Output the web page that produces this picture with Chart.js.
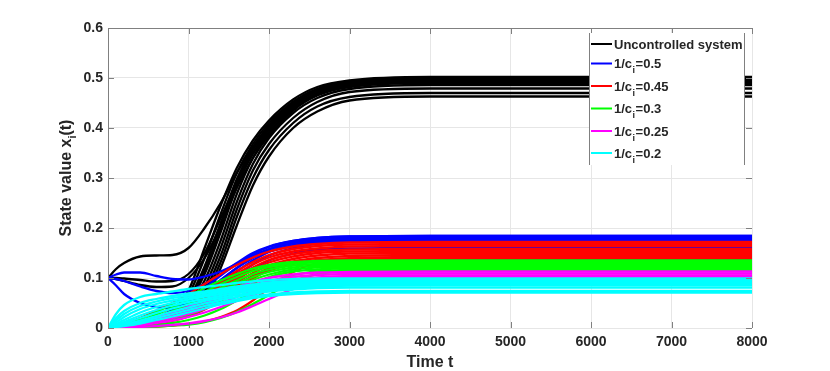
<!DOCTYPE html>
<html>
<head>
<meta charset="utf-8">
<script src="https://cdn.jsdelivr.net/npm/chart.js@4"></script>
<style>
html,body{margin:0;padding:0;background:#fff;}
#wrap{width:830px;height:371px;}
</style>
</head>
<body>
<div id="wrap"><canvas id="c" width="830" height="371"></canvas></div>
<script>
// time samples (x values)
const T = [0,100,200,400,600,800,1000,1200,1400,1600,1800,2000,2300,2600,3000,4000,8000];

// Uncontrolled system
const uncontrolled = [
  [0.1,0.118,0.13,0.143,0.145,0.146,0.16,0.2,0.25,0.31,0.362,0.405,0.452,0.478,0.492,0.499,0.499],
  [0.1,0.098,0.094,0.086,0.082,0.083,0.1,0.14,0.205,0.28,0.34,0.385,0.435,0.465,0.482,0.49,0.49],
  [0.1,0.1,0.099,0.096,0.093,0.094,0.108,0.15,0.22,0.29,0.348,0.392,0.44,0.468,0.484,0.492,0.492],
  [0,0.002,0.004,0.01,0.02,0.035,0.075,0.16,0.245,0.32,0.375,0.415,0.457,0.482,0.495,0.502,0.502],
  [0,0.002,0.004,0.009,0.018,0.032,0.066,0.14,0.228,0.31,0.368,0.41,0.452,0.478,0.492,0.5,0.5],
  [0,0.002,0.004,0.009,0.017,0.03,0.058,0.123,0.21,0.298,0.36,0.404,0.448,0.475,0.49,0.497,0.497],
  [0,0.002,0.004,0.008,0.016,0.029,0.054,0.115,0.2,0.29,0.356,0.401,0.446,0.474,0.489,0.496,0.496],
  [0,0.002,0.003,0.008,0.015,0.027,0.05,0.108,0.192,0.283,0.35,0.397,0.443,0.471,0.487,0.495,0.495],
  [0,0.002,0.003,0.007,0.014,0.025,0.045,0.095,0.175,0.268,0.34,0.39,0.438,0.467,0.484,0.492,0.492],
  [0,0.001,0.003,0.007,0.013,0.023,0.04,0.083,0.16,0.252,0.328,0.38,0.43,0.46,0.478,0.486,0.486],
  [0,0.001,0.003,0.006,0.012,0.021,0.036,0.073,0.145,0.237,0.315,0.368,0.42,0.452,0.472,0.479,0.479],
  [0,0.001,0.002,0.006,0.011,0.019,0.032,0.065,0.132,0.222,0.3,0.356,0.41,0.443,0.462,0.47,0.47],
  [0,0.001,0.002,0.005,0.01,0.017,0.028,0.056,0.12,0.205,0.285,0.343,0.4,0.433,0.455,0.463,0.463]
];

// 1/c_i = 0.5
const ci050 = [
  [0.1,0.107,0.111,0.111,0.104,0.098,0.097,0.103,0.113,0.128,0.145,0.158,0.17,0.176,0.179,0.18,0.18],
  [0.1,0.085,0.068,0.05,0.042,0.04,0.05,0.07,0.095,0.12,0.14,0.153,0.165,0.172,0.175,0.176,0.176],
  [0.1,0.098,0.094,0.083,0.074,0.07,0.074,0.088,0.108,0.13,0.15,0.163,0.174,0.18,0.183,0.184,0.184],
  [0,0.002,0.005,0.012,0.022,0.036,0.055,0.08,0.105,0.128,0.148,0.162,0.174,0.18,0.183,0.184,0.184],
  [0,0.002,0.004,0.01,0.018,0.03,0.047,0.07,0.096,0.12,0.141,0.157,0.17,0.177,0.181,0.182,0.182],
  [0,0.001,0.003,0.008,0.015,0.025,0.04,0.062,0.088,0.113,0.135,0.152,0.166,0.174,0.178,0.179,0.179],
  [0,0.001,0.003,0.007,0.013,0.022,0.035,0.055,0.08,0.105,0.127,0.145,0.16,0.169,0.174,0.176,0.176],
  [0,0.001,0.002,0.006,0.011,0.019,0.03,0.048,0.072,0.097,0.118,0.135,0.149,0.156,0.159,0.16,0.16],
  [0,0.001,0.002,0.005,0.01,0.017,0.027,0.042,0.063,0.085,0.104,0.118,0.13,0.134,0.136,0.136,0.136]
];

// 1/c_i = 0.45
const ci045 = [
  [0,0.003,0.008,0.02,0.034,0.05,0.068,0.088,0.108,0.126,0.141,0.153,0.163,0.168,0.171,0.172,0.172],
  [0,0.002,0.004,0.01,0.018,0.029,0.045,0.068,0.092,0.114,0.132,0.146,0.158,0.164,0.167,0.168,0.168],
  [0,0.001,0.004,0.009,0.016,0.026,0.041,0.062,0.086,0.108,0.127,0.141,0.153,0.159,0.163,0.164,0.164],
  [0,0.001,0.003,0.008,0.014,0.023,0.037,0.057,0.08,0.102,0.121,0.136,0.148,0.154,0.157,0.158,0.158],
  [0,0.001,0.003,0.007,0.012,0.02,0.033,0.052,0.075,0.097,0.116,0.131,0.143,0.15,0.153,0.154,0.154],
  [0,0.001,0.003,0.006,0.011,0.018,0.03,0.047,0.069,0.091,0.11,0.125,0.138,0.145,0.149,0.15,0.15],
  [0,0.001,0.002,0.005,0.01,0.016,0.026,0.042,0.063,0.085,0.104,0.12,0.133,0.14,0.144,0.146,0.146],
  [0,0.001,0.002,0.005,0.009,0.014,0.023,0.037,0.057,0.079,0.099,0.115,0.128,0.136,0.14,0.142,0.142],
  [0,0,0.001,0.002,0.003,0.005,0.008,0.013,0.022,0.035,0.055,0.08,0.112,0.13,0.137,0.139,0.139]
];

// 1/c_i = 0.3
const ci030 = [
  [0,0.003,0.008,0.019,0.032,0.048,0.064,0.08,0.095,0.108,0.119,0.126,0.132,0.134,0.135,0.135,0.135],
  [0,0.002,0.006,0.015,0.027,0.041,0.056,0.072,0.088,0.102,0.114,0.122,0.129,0.131,0.132,0.132,0.132],
  [0,0.002,0.005,0.012,0.022,0.034,0.048,0.064,0.08,0.095,0.108,0.117,0.125,0.128,0.129,0.129,0.129],
  [0,0.001,0.004,0.01,0.018,0.028,0.041,0.056,0.073,0.089,0.102,0.112,0.121,0.124,0.126,0.126,0.126],
  [0,0.001,0.003,0.008,0.014,0.022,0.033,0.047,0.064,0.081,0.096,0.107,0.117,0.121,0.123,0.123,0.123],
  [0,0.001,0.002,0.006,0.011,0.017,0.026,0.038,0.054,0.072,0.089,0.102,0.113,0.117,0.12,0.12,0.12],
  [0,0,0.001,0.003,0.006,0.01,0.016,0.025,0.038,0.055,0.073,0.09,0.106,0.113,0.116,0.117,0.117],
  [0,0,0.001,0.002,0.003,0.005,0.007,0.012,0.02,0.032,0.048,0.066,0.093,0.108,0.113,0.114,0.114]
];

// 1/c_i = 0.25
const ci025 = [
  [0,0.002,0.005,0.012,0.021,0.031,0.043,0.056,0.069,0.081,0.092,0.1,0.107,0.111,0.112,0.113,0.113],
  [0,0.001,0.004,0.01,0.018,0.027,0.038,0.05,0.063,0.075,0.086,0.094,0.102,0.106,0.108,0.109,0.109],
  [0,0.001,0.003,0.008,0.015,0.023,0.033,0.044,0.057,0.069,0.08,0.089,0.097,0.101,0.104,0.105,0.105],
  [0,0.001,0.003,0.007,0.013,0.02,0.028,0.038,0.05,0.062,0.074,0.083,0.092,0.097,0.1,0.102,0.102],
  [0,0.001,0.002,0.005,0.01,0.015,0.022,0.031,0.042,0.054,0.066,0.077,0.087,0.093,0.097,0.099,0.099],
  [0,0,0.001,0.002,0.004,0.006,0.009,0.014,0.021,0.031,0.044,0.058,0.078,0.09,0.096,0.098,0.098]
];

// 1/c_i = 0.2
const ci020 = [
  [0,0.028,0.046,0.062,0.068,0.073,0.078,0.082,0.086,0.09,0.093,0.096,0.098,0.099,0.099,0.099,0.099],
  [0,0.02,0.034,0.05,0.058,0.064,0.069,0.073,0.078,0.083,0.087,0.091,0.094,0.096,0.097,0.097,0.097],
  [0,0.015,0.028,0.044,0.053,0.06,0.065,0.07,0.075,0.08,0.084,0.088,0.092,0.094,0.095,0.095,0.095],
  [0,0.011,0.022,0.038,0.048,0.055,0.061,0.066,0.072,0.077,0.081,0.085,0.089,0.091,0.093,0.093,0.093],
  [0,0.008,0.016,0.031,0.042,0.05,0.057,0.063,0.068,0.074,0.078,0.082,0.086,0.088,0.09,0.091,0.091],
  [0,0.006,0.012,0.025,0.036,0.045,0.052,0.058,0.064,0.07,0.075,0.079,0.083,0.086,0.088,0.088,0.088],
  [0,0.004,0.009,0.02,0.03,0.039,0.047,0.054,0.06,0.066,0.071,0.076,0.08,0.083,0.085,0.086,0.086],
  [0,0.003,0.007,0.015,0.024,0.033,0.041,0.049,0.056,0.062,0.068,0.073,0.077,0.08,0.081,0.081,0.081],
  [0,0.002,0.005,0.012,0.02,0.028,0.036,0.044,0.051,0.057,0.063,0.067,0.071,0.073,0.074,0.074,0.074],
  [0,0.002,0.004,0.009,0.016,0.023,0.031,0.039,0.047,0.054,0.06,0.064,0.068,0.07,0.071,0.071,0.071]
];

const groupNames = ['Uncontrolled system', '0.5', '0.45', '0.3', '0.25', '0.2'];
const groupColors = ['#000000', '#0000ff', '#ff0000', '#00ff00', '#ff00ff', '#00ffff'];
const groupCurves = [uncontrolled, ci050, ci045, ci030, ci025, ci020];
const xTicks = [0,1000,2000,3000,4000,5000,6000,7000,8000];
const yTicks = [0,0.1,0.2,0.3,0.4,0.5,0.6];

const datasets = [];
groupCurves.forEach((curves, g) => {
  curves.forEach(arr => {
    datasets.push({
      data: arr.map((v, i) => ({x: T[i], y: v})),
      borderColor: groupColors[g],
      borderWidth: 2.3,
      pointRadius: 0,
      fill: false,
      cubicInterpolationMode: 'monotone',
      order: 10 - g
    });
  });
});

const TEXT = '#262626';
const AXIS = '#808080';

const decor = {
  id: 'decor',
  afterDatasetsDraw(chart) {
    const {ctx, chartArea: {left, right, top, bottom}, scales: {x, y}} = chart;
    ctx.save();
    ctx.strokeStyle = AXIS;
    ctx.lineWidth = 1;
    ctx.beginPath();
    ctx.moveTo(left + 0.5, bottom);
    ctx.lineTo(left + 0.5, top + 0.5);
    ctx.lineTo(right, top + 0.5);
    x.ticks.forEach(t => {
      const px = Math.round(x.getPixelForValue(t.value)) + 0.5;
      ctx.moveTo(px, top); ctx.lineTo(px, top + 6);
      ctx.moveTo(px, bottom); ctx.lineTo(px, bottom - 6);
    });
    y.ticks.forEach(t => {
      const py = Math.round(y.getPixelForValue(t.value)) + 0.5;
      ctx.moveTo(left, py); ctx.lineTo(left + 6, py);
      ctx.moveTo(right, py); ctx.lineTo(right - 6, py);
    });
    ctx.stroke();
    ctx.restore();
  },
  afterDraw(chart) {
    const {ctx, chartArea: {left, right, top, bottom}} = chart;
    ctx.save();
    // axis titles
    ctx.fillStyle = TEXT;
    ctx.font = 'bold 16px "Liberation Sans", Arial, sans-serif';
    ctx.textBaseline = 'alphabetic';
    ctx.textAlign = 'center';
    ctx.fillText('Time t', (left + right) / 2, 367);

    ctx.save();
    ctx.translate(71, (top + bottom) / 2);
    ctx.rotate(-Math.PI / 2);
    ctx.textAlign = 'left';
    const f1 = 'bold 16px "Liberation Sans", Arial, sans-serif';
    const f2 = 'bold 11px "Liberation Sans", Arial, sans-serif';
    ctx.font = f1; const wa = ctx.measureText('State value x').width; const wc = ctx.measureText('(t)').width;
    ctx.font = f2; const wb = ctx.measureText('i').width;
    let sx = -(wa + wb + wc) / 2;
    ctx.font = f1; ctx.fillText('State value x', sx, 0); sx += wa;
    ctx.font = f2; ctx.fillText('i', sx, 5); sx += wb;
    ctx.font = f1; ctx.fillText('(t)', sx, 0);
    ctx.restore();

    // legend
    const lx0 = 589, lx1 = 744, ly0 = 33, ly1 = 165;
    ctx.fillStyle = '#ffffff';
    ctx.fillRect(lx0, ly0, lx1 - lx0, ly1 - ly0);
    ctx.strokeStyle = AXIS;
    ctx.lineWidth = 1;
    ctx.beginPath();
    ctx.moveTo(lx0 + 0.5, ly0); ctx.lineTo(lx0 + 0.5, ly1);
    ctx.moveTo(lx1 + 0.5, ly0); ctx.lineTo(lx1 + 0.5, ly1);
    ctx.stroke();
    const rows = [44, 63.5, 86, 108.5, 131, 153];
    const lf = 'bold 13px "Liberation Sans", Arial, sans-serif';
    const sf = 'bold 9px "Liberation Sans", Arial, sans-serif';
    groupNames.forEach((name, g) => {
      const yy = rows[g];
      ctx.strokeStyle = groupColors[g];
      ctx.lineWidth = 2;
      ctx.beginPath(); ctx.moveTo(591, yy); ctx.lineTo(612, yy); ctx.stroke();
      ctx.fillStyle = TEXT;
      ctx.textAlign = 'left';
      ctx.textBaseline = 'alphabetic';
      const base = yy + 4.5;
      if (g === 0) {
        ctx.font = lf; ctx.fillText(name, 614, base);
      } else {
        let tx = 614;
        ctx.font = lf; ctx.fillText('1/c', tx, base); tx += ctx.measureText('1/c').width;
        ctx.font = sf; ctx.fillText('i', tx + 0.5, base + 5); tx += ctx.measureText('i').width + 1;
        ctx.font = lf; ctx.fillText('=' + name, tx, base);
      }
    });
    ctx.restore();
  }
};

new Chart(document.getElementById('c'), {
  type: 'line',
  data: { datasets },
  options: {
    responsive: false,
    animation: false,
    events: [],
    layout: { padding: { left: 0, top: 28, right: 78, bottom: 0 } },
    plugins: { legend: { display: false }, tooltip: { enabled: false }, title: { display: false } },
    scales: {
      x: {
        type: 'linear', min: 0, max: 8000,
        afterBuildTicks: s => { s.ticks = xTicks.map(v => ({value: v})); },
        afterFit: s => { s.height = 43; },
        ticks: { color: TEXT, font: { family: '"Liberation Sans", Arial, sans-serif', size: 14, weight: 'bold' }, padding: 6, maxRotation: 0, autoSkip: false, callback: v => String(v) },
        grid: { color: '#e6e6e6', drawTicks: false, lineWidth: 1 },
        border: { display: false }
      },
      y: {
        type: 'linear', min: 0, max: 0.6,
        afterBuildTicks: s => { s.ticks = yTicks.map(v => ({value: v})); },
        afterFit: s => { s.width = 108; },
        ticks: { color: TEXT, font: { family: '"Liberation Sans", Arial, sans-serif', size: 14, weight: 'bold' }, padding: 5, callback: v => String(+v.toFixed(1)) },
        grid: { color: '#e6e6e6', drawTicks: false, lineWidth: 1 },
        border: { display: false }
      }
    }
  },
  plugins: [decor]
});
</script>
</body>
</html>
